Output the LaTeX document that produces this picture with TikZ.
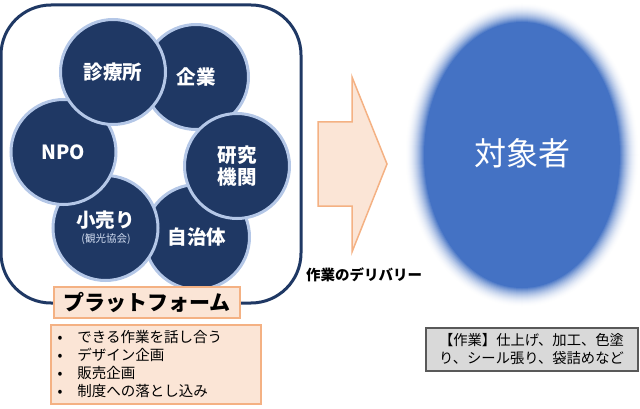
\documentclass[tikz,border=0pt]{standalone}
\usepackage{fontspec}
\setmainfont{Noto Sans CJK JP}
\usetikzlibrary{shapes.geometric}
\definecolor{navy}{HTML}{1F3864}
\definecolor{ringblue}{HTML}{B4C7E7}
\definecolor{peach}{HTML}{FBE5D6}
\definecolor{peachline}{HTML}{F4B183}
\definecolor{softblue}{HTML}{4472C4}
\tikzstyle{member} = [circle, fill=navy, draw=ringblue, line width=3pt, inner sep=0pt, minimum size=105pt, text=white, align=center, font=\fontsize{19.5}{22}\selectfont\bfseries]
\tikzstyle{peachbox} = [rectangle, fill=peach, draw=peachline, line width=2pt, inner sep=0pt]
\tikzstyle{halo} = [ellipse, inner sep=0pt]
\begin{document}
\begin{tikzpicture}[x=1pt,y=-1pt]
      \useasboundingbox (0,0) rectangle (640,409);
      \node[rectangle, draw=navy, line width=3pt, rounded corners=50pt, inner sep=0pt, minimum width=300pt, minimum height=298pt] (platform) at (151,154) {};
      \node[member] (kigyo) at (196,77) {企業};
      \node[member] (jichitai) at (197,237) {自治体};
      \node[member] (kouri) at (105.5,228) {};
      \node[member] (npo) at (63.5,152) {NPO};
      \node[member] (clinic) at (113,72) {診療所};
      \node[member] (lab) at (237,166) {研究\\機関};
      \node[text=white, font=\fontsize{19.5}{22}\selectfont\bfseries] (kourilabel) at (105.5,220) {小売り};
      \node[text=ringblue!60!white, font=\fontsize{10.5}{12}\selectfont] (kankou) at (106,239) {(観光協会)};
      \node[peachbox, minimum width=186pt, minimum height=31pt, font=\fontsize{21}{24}\selectfont\bfseries] (platformlabel) at (147,302) {プラットフォーム};
      \node[peachbox, minimum width=210pt, minimum height=79pt, text width=210pt, font=\fontsize{14.5}{17.7}\selectfont, align=left, anchor=west] (tasks) at (49.5,364)
        {\hspace*{7pt}\makebox[20pt][l]{•}できる作業を話し合う\\ \hspace*{7pt}\makebox[20pt][l]{•}デザイン企画\\ \hspace*{7pt}\makebox[20pt][l]{•}販売企画\\ \hspace*{7pt}\makebox[20pt][l]{•}制度への落とし込み};
      \coordinate (a1) at (318,122);
      \coordinate (a2) at (352,122);
      \coordinate (a3) at (352,77);
      \coordinate (a4) at (387,164);
      \coordinate (a5) at (352,252);
      \coordinate (a6) at (352,206);
      \coordinate (a7) at (318,206);
      \draw[fill=peach, draw=peachline, line width=1.5pt] (a1) -- (a2) -- (a3) -- (a4) -- (a5) -- (a6) -- (a7) -- cycle;
      \node[font=\fontsize{14.5}{17}\selectfont\bfseries] (delivery) at (364,275) {作業のデリバリー};
      % soft edge, outside to inside
      \foreach \i in {0,...,20} {
        \pgfmathsetmacro{\w}{236-2*\i}
        \pgfmathsetmacro{\h}{306-2*\i}
        \pgfmathsetmacro{\m}{\i*\i/4}
        \node[halo, fill=softblue!\m!white, minimum width=\w pt, minimum height=\h pt] (halo\i) at (522,155) {};
      }
      \node[text=white, font=\fontsize{32}{36}\selectfont] (target) at (522,153) {対象者};
      \node[rectangle, fill=black!15, draw=black!65, line width=2pt, inner sep=0pt, minimum width=212pt, minimum height=43pt, align=center, font=\fontsize{14.3}{18.5}\selectfont] (work) at (531.5,349) {【作業】仕上げ、加工、色塗\\り、シール張り、袋詰めなど};
    \end{tikzpicture}
\end{document}
